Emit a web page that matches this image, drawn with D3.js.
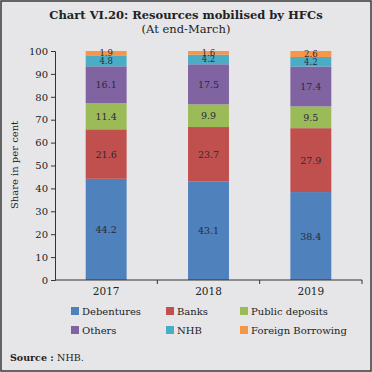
<!DOCTYPE html>
<html>
<head>
<meta charset="utf-8">
<script src="https://cdn.jsdelivr.net/npm/d3@7"></script>
<style>
  html, body { margin: 0; padding: 0; background: #e6e6e8; }
  svg { display: block; }
</style>
</head>
<body>
<svg id="chart" width="372" height="372"></svg>
<script>
// Years on the x axis
const years = ['2017', '2018', '2019'];

// Series (bottom to top of each stack)
const seriesNames = ['Debentures', 'Banks', 'Public deposits', 'Others', 'NHB', 'Foreign Borrowing'];
const seriesColors = ['#4f81bd', '#c0504d', '#9bbb59', '#8064a2', '#4bacc6', '#f79646'];

// Share in per cent, one array per series, in order of years
const debentures = [44.2, 43.1, 38.4];
const banks = [21.6, 23.7, 27.9];
const publicDeposits = [11.4, 9.9, 9.5];
const others = [16.1, 17.5, 17.4];
const nhb = [4.8, 4.2, 4.2];
const foreignBorrowing = [1.9, 1.6, 2.6];

const yTicks = [0, 10, 20, 30, 40, 50, 60, 70, 80, 90, 100];

const allSeries = [debentures, banks, publicDeposits, others, nhb, foreignBorrowing];
const rows = years.map((y, i) => {
  const r = {year: y};
  seriesNames.forEach((s, k) => r[s] = allSeries[k][i]);
  return r;
});

const W = 372, H = 372;
const margin = {left: 55, right: 10, top: 51, bottom: 92};
const svg = d3.select('#chart');
const serif = "'DejaVu Serif', 'Liberation Serif', serif";

// frame
svg.append('rect')
  .attr('x', 1).attr('y', 1).attr('width', W - 2).attr('height', H - 2)
  .attr('fill', '#e6e6e8').attr('stroke', '#3a3a3a').attr('stroke-width', 1.5);

// titles
svg.append('text')
  .attr('x', 186).attr('y', 19)
  .attr('text-anchor', 'middle')
  .attr('font-family', serif).attr('font-weight', 'bold').attr('font-size', 11.5)
  .attr('fill', '#222')
  .text('Chart VI.20: Resources mobilised by HFCs');
svg.append('text')
  .attr('x', 186).attr('y', 33)
  .attr('text-anchor', 'middle')
  .attr('font-family', serif).attr('font-size', 11.5)
  .attr('fill', '#222')
  .text('(At end-March)');

const x = d3.scaleBand()
  .domain(years)
  .range([margin.left, 362])
  .paddingInner(0.6)
  .paddingOuter(0.3);

const y = d3.scaleLinear()
  .domain([0, 100])
  .range([280, 51]);

const stack = d3.stack().keys(seriesNames);
const stacked = stack(rows);

const g = svg.append('g');
g.selectAll('g.layer')
  .data(stacked)
  .join('g')
  .attr('class', 'layer')
  .attr('fill', (d, i) => seriesColors[i])
  .selectAll('rect')
  .data(d => d)
  .join('rect')
  .attr('x', d => x(d.data.year))
  .attr('width', x.bandwidth())
  .attr('y', d => y(d[1]))
  .attr('height', d => y(d[0]) - y(d[1]));

// value labels (the two thin top segments get slightly smaller text)
stacked.forEach((layer, i) => {
  const small = i >= 4;
  g.selectAll(null)
    .data(layer)
    .join('text')
    .attr('x', d => x(d.data.year) + x.bandwidth() / 2)
    .attr('y', d => (y(d[0]) + y(d[1])) / 2 + (small ? 3 : 3.5))
    .attr('text-anchor', 'middle')
    .attr('font-family', serif).attr('font-size', small ? 8.5 : 9.5)
    .attr('fill', '#2a2a3a')
    .text(d => d3.format('.1f')(d[1] - d[0]));
});

// y axis
const yAxis = svg.append('g')
  .attr('transform', `translate(${margin.left},0)`)
  .call(d3.axisLeft(y).tickValues(yTicks).tickSize(4).tickPadding(3));
yAxis.selectAll('text')
  .attr('font-family', serif).attr('font-size', 10).attr('fill', '#222');
yAxis.selectAll('line, path').attr('stroke', '#333');

// x axis with ticks at band boundaries
const xAxisG = svg.append('g').attr('transform', 'translate(0,280)');
xAxisG.append('line')
  .attr('x1', margin.left).attr('x2', 362)
  .attr('stroke', '#333');
const bounds = years.map(yr => x(yr) + x.bandwidth() / 2 + x.step() / 2);
xAxisG.selectAll('line.tk')
  .data(bounds)
  .join('line')
  .attr('class', 'tk')
  .attr('x1', d => d).attr('x2', d => d)
  .attr('y1', 0).attr('y2', 4)
  .attr('stroke', '#333');
xAxisG.selectAll('text')
  .data(years)
  .join('text')
  .attr('x', d => x(d) + x.bandwidth() / 2)
  .attr('y', 15)
  .attr('text-anchor', 'middle')
  .attr('font-family', serif).attr('font-size', 10.5)
  .attr('fill', '#222')
  .text(d => d);

// y label
svg.append('text')
  .attr('transform', 'translate(18,165) rotate(-90)')
  .attr('text-anchor', 'middle')
  .attr('font-family', serif).attr('font-size', 10)
  .attr('fill', '#222')
  .text('Share in per cent');

// legend
const legendX = [71, 166, 240];
const legendY = [315, 334];
const legend = svg.append('g');
seriesNames.forEach((s, i) => {
  const lx = legendX[i % 3], ly = legendY[Math.floor(i / 3)];
  legend.append('rect')
    .attr('x', lx).attr('y', ly - 8).attr('width', 8).attr('height', 8)
    .attr('fill', seriesColors[i]);
  legend.append('text')
    .attr('x', lx + 11).attr('y', ly)
    .attr('font-family', serif).attr('font-size', 10)
    .attr('fill', '#222')
    .text(s);
});

// source
const src = svg.append('text')
  .attr('x', 10).attr('y', 361)
  .attr('font-family', serif).attr('font-size', 9.5)
  .attr('fill', '#222');
src.append('tspan').attr('font-weight', 'bold').text('Source : ');
src.append('tspan').text('NHB.');
</script>
</body>
</html>
